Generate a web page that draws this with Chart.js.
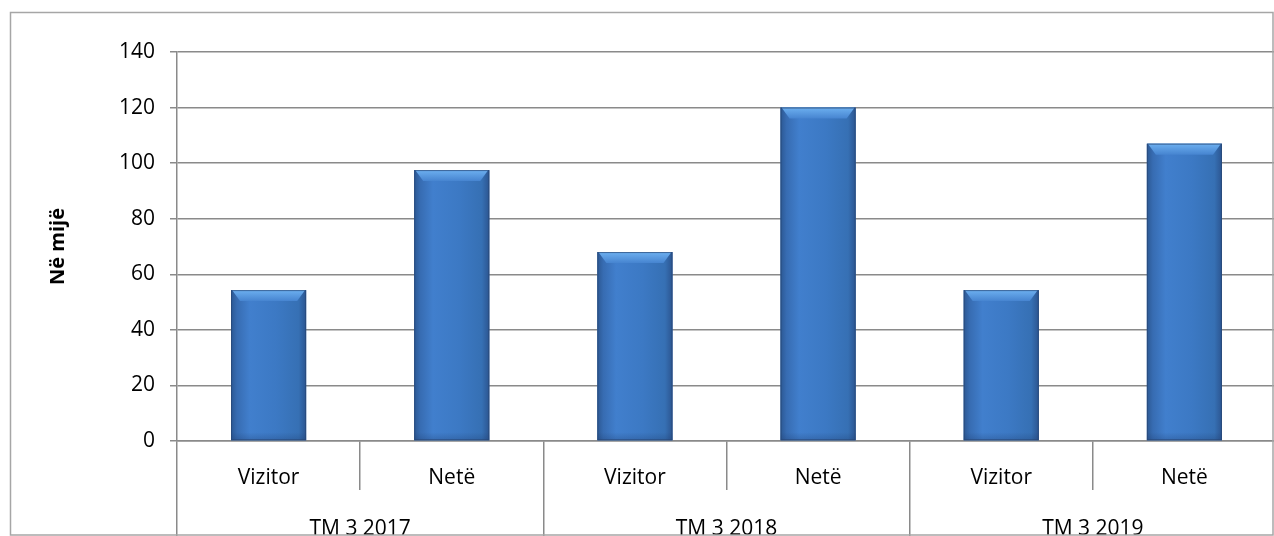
<!DOCTYPE html>
<html>
<head>
<meta charset="utf-8">
<script src="https://cdn.jsdelivr.net/npm/chart.js@4/dist/chart.umd.min.js"></script>
<style>
  html, body { margin: 0; padding: 0; background: #fff; overflow: hidden; }
  #wrap { position: relative; width: 1276px; height: 536px; }
</style>
</head>
<body>
<div id="wrap"><canvas id="myChart"></canvas></div>
<script>
// data
var subLabels = ["Vizitor", "Netë", "Vizitor", "Netë", "Vizitor", "Netë"];
var groupLabels = ["TM 3 2017", "TM 3 2018", "TM 3 2019"];
var values = [54.3, 97.5, 68, 120, 54.3, 107];
var yMin = 0, yMax = 140, yStep = 20;

var gridColor = '#8a8a8a';
var font = "'Open Sans', 'DejaVu Sans', sans-serif";

// cylinder-ish shading on top of each bar
var barSkin = {
  id: 'barSkin',
  afterDatasetsDraw: function(chart) {
    var ctx = chart.ctx;
    chart.getDatasetMeta(0).data.forEach(function(bar) {
      var p = bar.getProps(['x', 'y', 'base', 'width'], true);
      var x0 = p.x - p.width / 2, x1 = p.x + p.width / 2;
      var h = p.base - p.y;
      ctx.save();
      var g = ctx.createLinearGradient(x0, 0, x1, 0);
      g.addColorStop(0, '#2c5893');
      g.addColorStop(0.08, '#376cb2');
      g.addColorStop(0.25, '#417fcd');
      g.addColorStop(0.6, '#3c79c4');
      g.addColorStop(0.9, '#3670b4');
      g.addColorStop(1, '#2c5590');
      ctx.fillStyle = g;
      ctx.fillRect(x0, p.y, p.width, h);
      // top bevel
      var b = Math.min(11, h / 2);
      var tg = ctx.createLinearGradient(0, p.y, 0, p.y + b);
      tg.addColorStop(0, '#6db0f0');
      tg.addColorStop(1, '#4684d0');
      ctx.fillStyle = tg;
      ctx.beginPath();
      ctx.moveTo(x0 + 1, p.y);
      ctx.lineTo(x1 - 1, p.y);
      ctx.lineTo(x1 - 9, p.y + b);
      ctx.lineTo(x0 + 9, p.y + b);
      ctx.closePath();
      ctx.fill();
      // bottom shade
      var bg = ctx.createLinearGradient(0, p.base - 8, 0, p.base);
      bg.addColorStop(0, 'rgba(30,60,110,0)');
      bg.addColorStop(1, 'rgba(30,60,110,0.3)');
      ctx.fillStyle = bg;
      ctx.fillRect(x0, p.base - 8, p.width, 8);
      ctx.strokeStyle = 'rgba(40,70,115,0.7)';
      ctx.lineWidth = 1;
      ctx.strokeRect(x0 + 0.5, p.y + 0.5, p.width - 1, h - 1);
      ctx.restore();
    });
  }
};

// outer frame of the chart
var frame = {
  id: 'frame',
  afterDraw: function(chart) {
    var ctx = chart.ctx;
    ctx.save();
    ctx.strokeStyle = '#a6a6a6';
    ctx.lineWidth = 1.5;
    ctx.strokeRect(10.5, 12.5, 1262.5, 522.5);
    ctx.restore();
  }
};

var ctx = document.getElementById("myChart").getContext('2d');
var myChart = new Chart(ctx, {
  type: 'bar',
  data: {
    labels: subLabels,
    datasets: [{
      data: values,
      backgroundColor: '#3a74bd',
      categoryPercentage: 1,
      barPercentage: 0.41,
      xAxisID: 'x'
    }]
  },
  options: {
    responsive: true,
    maintainAspectRatio: false,
    animation: false,
    layout: { padding: { top: 52, left: 0, right: 0, bottom: 1 } },
    plugins: { legend: { display: false }, tooltip: { enabled: false } },
    scales: {
      x: {
        type: 'category',
        position: 'bottom',
        offset: true,
        grid: { offset: true, drawOnChartArea: false, drawTicks: true, tickLength: 49, color: gridColor, lineWidth: 1.5 },
        border: { display: true, color: gridColor, width: 1.5 },
        ticks: { color: '#000', font: { family: font, size: 21 }, padding: -25, maxRotation: 0, autoSkip: false },
        afterFit: function(s) { s.height = 49; }
      },
      x2: {
        type: 'category',
        position: 'bottom',
        labels: groupLabels,
        offset: true,
        grid: { offset: true, drawOnChartArea: false, drawTicks: true, tickLength: 46, color: gridColor, lineWidth: 1.5 },
        border: { display: false },
        ticks: { color: '#000', font: { family: font, size: 21 }, padding: -20, maxRotation: 0, autoSkip: false },
        afterFit: function(s) { s.height = 45; }
      },
      y: {
        min: yMin,
        max: yMax,
        ticks: { stepSize: yStep, color: '#000', font: { family: font, size: 21 }, padding: 15 },
        grid: { color: gridColor, lineWidth: 1.5, drawTicks: true, tickLength: 7 },
        border: { display: true, color: gridColor, width: 1.5 },
        title: { display: true, text: 'Në mijë', color: '#000', font: { family: font, size: 20, weight: 'bold' }, padding: { top: 46 } },
        afterFit: function(s) { s.width = 177; }
      }
    }
  },
  plugins: [barSkin, frame]
});
</script>
</body>
</html>
